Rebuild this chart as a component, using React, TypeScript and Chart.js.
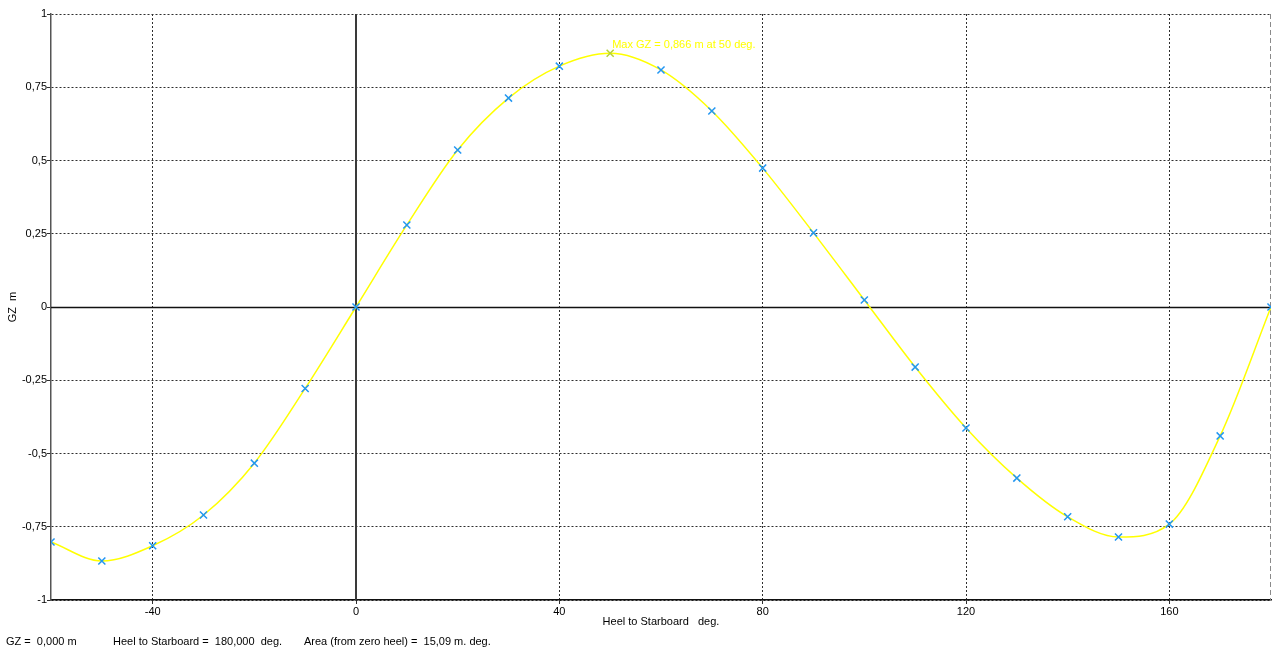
import { useEffect, useRef } from "react";
import { Chart, registerables } from "chart.js";

Chart.register(...registerables);

// Righting lever curve: heel angle (deg) and GZ (m)
const heelDeg = [-60, -50, -40, -30, -20, -10, 0, 10, 20, 30, 40, 50, 60, 70, 80, 90, 100, 110, 120, 130, 140, 150, 160, 170, 180];
const gzValues = [-0.802, -0.867, -0.815, -0.71, -0.533, -0.278, 0, 0.28, 0.536, 0.713, 0.822, 0.866, 0.809, 0.669, 0.474, 0.253, 0.024, -0.205, -0.413, -0.584, -0.716, -0.785, -0.741, -0.44, 0];

const xTickValues = [-40, 0, 40, 80, 120, 160];
const yTickStep = 0.25;

const maxGz = 0.866;
const maxGzHeel = 50;
const maxLabel = "Max GZ = 0,866 m at 50 deg.";

const statusGz = "GZ =  0,000 m";
const statusHeel = "Heel to Starboard =  180,000  deg.";
const statusArea = "Area (from zero heel) =  15,09 m. deg.";

const FONT = "'Liberation Sans', Arial, sans-serif";
const CURVE_COLOR = "#ffff00";
const MARK_COLOR = "#2196f3";
const MAX_MARK_COLOR = "#b5d335";
const GRID_COLOR = "#2e2e2e";

const fmt = (v: number) => String(Math.round(v * 100) / 100).replace(".", ",");

const overlayPlugin = {
  id: "gzOverlay",
  beforeDatasetsDraw(chart: any) {
    const { ctx, chartArea: a, scales } = chart;
    const x = scales.x;
    const y = scales.y;
    ctx.save();
    // dashed right frame edge
    ctx.strokeStyle = "#8a8a8a";
    ctx.lineWidth = 1;
    ctx.setLineDash([5, 3]);
    ctx.beginPath();
    ctx.moveTo(a.right - 0.5, a.top);
    ctx.lineTo(a.right - 0.5, a.bottom);
    ctx.stroke();
    ctx.setLineDash([]);
    // zero axes
    const x0 = Math.round(x.getPixelForValue(0));
    const y0 = Math.round(y.getPixelForValue(0)) + 0.5;
    ctx.strokeStyle = "#3a3a3a";
    ctx.lineWidth = 2;
    ctx.beginPath();
    ctx.moveTo(x0, a.top);
    ctx.lineTo(x0, a.bottom);
    ctx.stroke();
    ctx.strokeStyle = "#111";
    ctx.lineWidth = 1.5;
    ctx.beginPath();
    ctx.moveTo(a.left, y0);
    ctx.lineTo(a.right, y0);
    ctx.stroke();
    ctx.restore();
  },
  afterDatasetsDraw(chart: any) {
    const { ctx, scales } = chart;
    const px = scales.x.getPixelForValue(maxGzHeel);
    const py = scales.y.getPixelForValue(maxGz);
    ctx.save();
    ctx.font = `11px ${FONT}`;
    ctx.fillStyle = CURVE_COLOR;
    ctx.textAlign = "left";
    ctx.textBaseline = "middle";
    ctx.fillText(maxLabel, px + 2, py - 8);
    ctx.restore();
  },
};

export default function App() {
  const canvasRef = useRef<HTMLCanvasElement | null>(null);

  useEffect(() => {
    const canvas = canvasRef.current;
    if (!canvas) return;
    const points = heelDeg.map((h, i) => ({ x: h, y: gzValues[i] }));
    const markColors = heelDeg.map((h) => (h === maxGzHeel ? MAX_MARK_COLOR : MARK_COLOR));

    const chart = new Chart(canvas, {
      type: "line",
      data: {
        datasets: [
          {
            label: "GZ",
            data: points,
            borderColor: CURVE_COLOR,
            borderWidth: 1.5,
            pointRadius: 0,
            cubicInterpolationMode: "monotone",
            fill: false,
            order: 2,
          },
          {
            label: "GZ points",
            data: points,
            showLine: false,
            pointStyle: "crossRot",
            pointRadius: 5,
            pointBorderWidth: 1.5,
            pointBorderColor: markColors,
            pointBackgroundColor: markColors,
            clip: 0,
            order: 1,
          },
        ],
      },
      options: {
        responsive: false,
        animation: false,
        events: [],
        layout: { autoPadding: false, padding: { top: 14, right: 1, left: 0, bottom: 0 } },
        plugins: {
          legend: { display: false },
          tooltip: { enabled: false },
        },
        scales: {
          x: {
            type: "linear",
            min: -60,
            max: 180,
            afterBuildTicks: (scale: any) => {
              scale.ticks = xTickValues.map((v) => ({ value: v }));
            },
            afterFit: (scale: any) => {
              scale.height = 48;
              scale.paddingLeft = 0;
              scale.paddingRight = 0;
            },
            ticks: {
              color: "#000",
              font: { family: FONT, size: 11 },
              padding: 1,
              maxRotation: 0,
              autoSkip: false,
              callback: (v: any) => fmt(Number(v)),
            },
            grid: { color: GRID_COLOR, lineWidth: 1, tickLength: 4, drawTicks: true, tickColor: GRID_COLOR },
            border: { display: true, color: "#111", width: 1.5, dash: [2, 2] },
            title: {
              display: true,
              text: "Heel to Starboard   deg.",
              color: "#000",
              font: { family: FONT, size: 11 },
              padding: { top: 0, bottom: 19 },
            },
          },
          y: {
            type: "linear",
            min: -1,
            max: 1,
            afterFit: (scale: any) => {
              scale.width = 51;
              scale.paddingTop = 0;
              scale.paddingBottom = 0;
            },
            ticks: {
              stepSize: yTickStep,
              color: "#000",
              font: { family: FONT, size: 11 },
              padding: 0,
              callback: (v: any) => fmt(Number(v)),
            },
            grid: { color: GRID_COLOR, lineWidth: 1, tickLength: 4, drawTicks: true, tickColor: GRID_COLOR },
            border: { display: true, color: "#555", width: 1.5, dash: [2, 2] },
            title: {
              display: true,
              text: "GZ  m",
              color: "#000",
              font: { family: FONT, size: 11 },
              padding: { top: 6, bottom: 0 },
            },
          },
        },
      },
      plugins: [overlayPlugin],
    } as any);

    return () => chart.destroy();
  }, []);

  const statusStyle: React.CSSProperties = {
    position: "absolute",
    top: 634,
    fontFamily: FONT,
    fontSize: 11,
    lineHeight: "14px",
    whiteSpace: "pre",
    color: "#000",
  };

  return (
    <div style={{ position: "fixed", left: 0, top: 0, width: 1272, height: 648, background: "#fff", overflow: "hidden" }}>
      <canvas ref={canvasRef} width={1272} height={648} style={{ display: "block" }} />
      <div style={{ ...statusStyle, left: 6 }}>{statusGz}</div>
      <div style={{ ...statusStyle, left: 113 }}>{statusHeel}</div>
      <div style={{ ...statusStyle, left: 304 }}>{statusArea}</div>
    </div>
  );
}
